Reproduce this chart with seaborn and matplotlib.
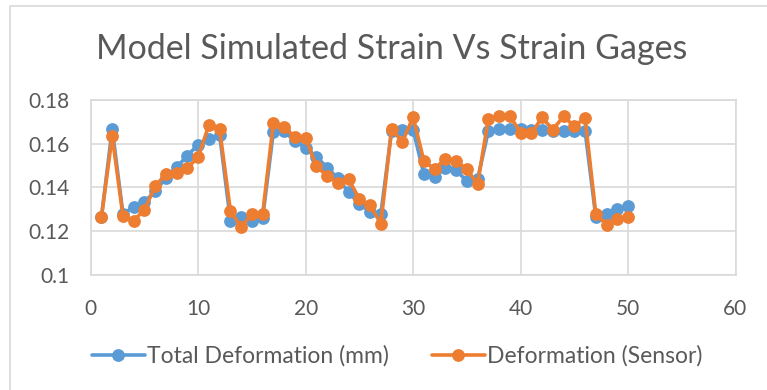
import matplotlib
matplotlib.use("Agg")
import matplotlib.pyplot as plt
import matplotlib.patches as mpatches
import seaborn as sns
import pandas as pd

sample = list(range(1, 51))
total_deformation = [
    0.1265, 0.1668, 0.1280, 0.1310, 0.1334, 0.1383, 0.1444, 0.1493, 0.1546, 0.1596,
    0.1620, 0.1640, 0.1249, 0.1264, 0.1249, 0.1260, 0.1655, 0.1657, 0.1612, 0.1582,
    0.1541, 0.1491, 0.1442, 0.1378, 0.1325, 0.1290, 0.1280, 0.1660, 0.1665, 0.1665,
    0.1461, 0.1450, 0.1490, 0.1480, 0.1428, 0.1438, 0.1657, 0.1668, 0.1668, 0.1668,
    0.1665, 0.1665, 0.1660, 0.1660, 0.1660, 0.1660, 0.1265, 0.1280, 0.1300, 0.1315,
]
sensor_deformation = [
    0.1265, 0.1636, 0.1270, 0.1249, 0.1298, 0.1406, 0.1462, 0.1466, 0.1489, 0.1540,
    0.1685, 0.1666, 0.1293, 0.1219, 0.1279, 0.1280, 0.1696, 0.1678, 0.1630, 0.1627,
    0.1496, 0.1454, 0.1420, 0.1438, 0.1348, 0.1318, 0.1235, 0.1668, 0.1608, 0.1722,
    0.1522, 0.1484, 0.1532, 0.1520, 0.1484, 0.1416, 0.1713, 0.1728, 0.1728, 0.1650,
    0.1647, 0.1720, 0.1665, 0.1725, 0.1680, 0.1718, 0.1280, 0.1230, 0.1254, 0.1265,
]
series_names = ["Total Deformation (mm)", "Deformation (Sensor)"]
title_text = "Model Simulated Strain Vs Strain Gages"
x_ticks = [0, 10, 20, 30, 40, 50, 60]
y_ticks = [0.10, 0.12, 0.14, 0.16, 0.18]
y_tick_labels = ["0.1", "0.12", "0.14", "0.16", "0.18"]

df = pd.DataFrame({
    "x": sample * 2,
    "y": total_deformation + sensor_deformation,
    "series": [series_names[0]] * len(sample) + [series_names[1]] * len(sample),
})

sns.set_style("white")
plt.rcParams["font.family"] = ["Lato", "DejaVu Sans"]

W, H = 767, 390
fig = plt.figure(figsize=(W / 100, H / 100), dpi=100)
fig.patch.set_facecolor("white")

# outer chart frame
fig.patches.append(mpatches.Rectangle((10 / W, -0.2), 2.0, (H - 6) / H + 0.2,
                                      transform=fig.transFigure, fill=False,
                                      edgecolor="#d9d9d9", linewidth=1.2))

left, right, top, bottom = 90.7, 735.5, 100, 275
ax = fig.add_axes([left / W, (H - bottom) / H, (right - left) / W, (bottom - top) / H])

palette = {series_names[0]: "#5B9BD5", series_names[1]: "#ED7D31"}
sns.lineplot(data=df, x="x", y="y", hue="series", palette=palette, marker="o",
             markersize=9.2, markeredgewidth=0, linewidth=2.6, ax=ax, legend=True)

ax.set_xlim(0, 60)
ax.set_ylim(0.1, 0.18)
ax.set_xticks(x_ticks)
ax.set_xticklabels([str(t) for t in x_ticks])
ax.set_yticks(y_ticks)
ax.set_yticklabels(y_tick_labels)
ax.grid(True, color="#d9d9d9", linewidth=1.2)
ax.set_axisbelow(True)
for s in ax.spines.values():
    s.set_color("#d9d9d9")
    s.set_linewidth(1.2)
ax.tick_params(axis="both", length=0, labelsize=15, colors="#595959")
ax.tick_params(axis="x", pad=17)
ax.tick_params(axis="y", pad=15)
ax.set_xlabel("")
ax.set_ylabel("")

fig.text(392 / W, 1 - 49 / H, title_text, ha="center", va="center",
         fontsize=24.5, color="#595959")

handles, labels = ax.get_legend_handles_labels()
ax.legend(handles, labels, loc="center", bbox_to_anchor=(397 / W, 1 - 356 / H),
          bbox_transform=fig.transFigure, ncol=2, frameon=False, fontsize=16.5,
          labelcolor="#595959", handlelength=2.3, handletextpad=0.08, columnspacing=1.9)

fig.savefig("out.png", dpi=100, facecolor="white")
